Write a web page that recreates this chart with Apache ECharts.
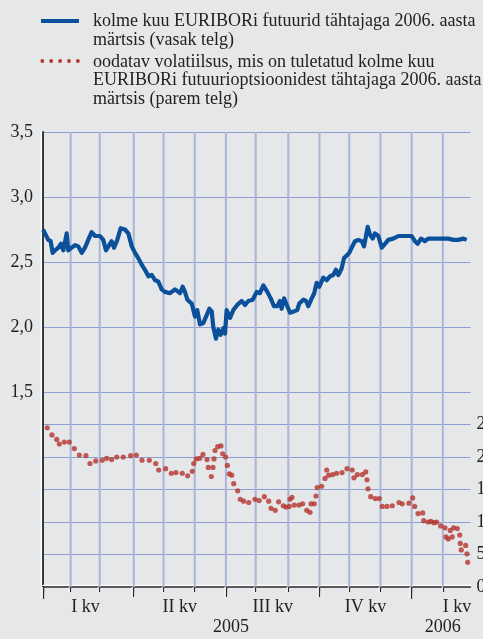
<!DOCTYPE html>
<html><head><meta charset="utf-8">
<script src="https://cdn.jsdelivr.net/npm/echarts@6/dist/echarts.min.js"></script>
<style>html,body{margin:0;padding:0;background:#e6e7e9}#c{width:483px;height:639px}</style>
</head><body><div id="c"></div><script>
// ---- data ----
// x = weekday index from 3 Jan 2005
const futDays = [0,1.4,3.7,5.4,6.8,8.5,10.8,12.7,14.3,16.7,17.8,20.2,22.6,24.9,27.3,29.6,31.9,34.3,36.7,40.2,42.5,44.4,46.1,48.4,50.1,52.4,54.8,57.8,60.2,62.6,64.9,67.2,69.6,71.9,74.3,76.7,79.0,81.3,83.7,86.0,89.6,93.1,96.6,98.5,100.1,101.8,104.9,107.2,108.8,110.7,113.0,115.4,117.3,119.0,120.1,122.0,123.6,125.3,127.2,128.4,129.5,131.9,134.2,137.0,140.1,142.5,144.8,147.9,150.7,153.0,155.4,158.2,160.6,162.9,165.2,167.1,168.3,170.0,172.3,174.2,177.0,179.3,180.7,183.6,185.5,187.1,189.5,191.3,193.0,194.9,197.7,200.1,202.4,204.7,206.6,208.3,210.6,212.3,214.2,216.0,217.7,220.0,222.4,224.8,226.4,227.8,229.0,230.6,232.5,234.1,236.5,238.9,241.2,243.5,247.0,250.6,254.1,257.6,260.0,262.3,264.2,266.6,269.4,271.7,275.2,278.8,282.3,285.8,289.4,292.9,296.4,298.8];
const futValues = [2.75,2.72,2.67,2.66,2.57,2.59,2.61,2.64,2.59,2.72,2.59,2.61,2.63,2.62,2.57,2.61,2.67,2.73,2.70,2.70,2.67,2.59,2.62,2.66,2.61,2.67,2.76,2.75,2.72,2.62,2.57,2.53,2.48,2.44,2.39,2.40,2.36,2.35,2.29,2.27,2.26,2.29,2.26,2.31,2.27,2.21,2.18,2.08,2.13,2.02,2.03,2.09,2.14,2.12,2.00,1.91,1.98,1.94,1.99,1.95,2.13,2.07,2.13,2.17,2.20,2.17,2.20,2.21,2.27,2.26,2.32,2.27,2.22,2.16,2.16,2.20,2.14,2.22,2.16,2.11,2.12,2.13,2.18,2.21,2.20,2.16,2.22,2.26,2.34,2.31,2.38,2.36,2.39,2.40,2.44,2.40,2.45,2.53,2.55,2.57,2.61,2.66,2.67,2.66,2.62,2.70,2.77,2.71,2.68,2.72,2.70,2.61,2.64,2.67,2.68,2.70,2.70,2.70,2.70,2.66,2.64,2.68,2.66,2.68,2.68,2.68,2.68,2.68,2.67,2.67,2.68,2.67];
const volDays = [3.0,6.3,9.7,11.5,15.0,18.5,22.1,25.6,30.3,33.1,37.2,41.8,44.9,48.4,52.0,56.6,61.8,65.8,69.8,75.0,79.5,81.6,86.5,90.5,93.8,98.2,102.0,105.3,106.3,108.1,110.5,112.8,115.7,116.6,118.7,119.9,120.6,121.3,123.2,125.5,126.7,128.8,130.0,131.4,133.1,134.5,137.3,139.1,141.5,145.1,149.5,152.5,156.1,159.2,160.8,163.8,166.2,169.5,171.4,173.7,174.2,175.6,177.2,180.5,183.1,186.0,188.3,189.0,191.3,192.5,193.4,196.5,198.9,200.1,201.5,204.3,207.1,210.9,214.4,218.1,219.3,221.7,225.2,227.6,228.5,229.2,231.1,234.3,237.2,239.3,242.6,246.3,251.1,253.4,258.1,260.7,262.1,264.5,267.8,268.5,271.7,273.6,275.7,277.6,280.5,283.5,284.2,285.8,287.2,288.6,289.6,292.2,293.9,294.3,295.0,298.1,299.0,299.5];
const volValues = [24.5,23.4,22.7,22.0,22.3,22.3,21.3,20.3,20.2,19.0,19.4,19.5,19.8,19.6,20.0,20.0,20.2,20.3,19.5,19.5,19.0,18.0,18.2,17.5,17.6,17.5,17.1,17.8,19.0,19.7,19.8,20.4,19.6,18.4,17.0,18.4,19.7,21.0,21.6,21.7,20.5,20.0,18.7,17.4,17.2,15.9,14.8,13.5,13.2,13.0,13.5,13.3,13.9,13.2,12.1,11.8,13.1,12.5,12.3,12.4,13.5,13.8,12.6,12.6,12.8,11.8,11.5,12.8,12.8,14.0,15.3,15.5,16.7,18.0,17.2,17.3,17.5,17.6,18.2,18.0,16.8,17.3,17.3,17.7,16.5,15.1,13.9,13.6,13.6,12.4,12.4,12.5,13.0,12.8,12.9,13.7,12.4,11.3,11.4,10.2,10.0,10.1,9.9,10.0,9.4,9.1,7.7,7.4,8.7,7.7,9.1,9.0,8.0,6.7,5.7,6.4,5.1,3.8];
const monthTicks = [0,19.5,40,64,85,107,129,150,173,195,216,238,260,282];
const quarterTicks = [0,64,129,195,260];
const yearTicks = [0,260];
const quarterLabelPos = [30,96.5,162,227.5,292];
const quarterLabels = ['I kv','II kv','III kv','IV kv','I kv'];
const yearLabelPos = [132.6,282];
const yearLabels = ['2005','2006'];
const leftLabelValues = [1.5,2.0,2.5,3.0,3.5];
const rightLabelValues = [0,5,10,15,20,25];
const legendLines1 = ['kolme kuu EURIBORi futuurid tähtajaga 2006. aasta','märtsis (vasak telg)'];
const legendLines2 = ['oodatav volatiilsus, mis on tuletatud kolme kuu','EURIBORi futuurioptsioonidest tähtajaga 2006. aasta','märtsis (parem telg)'];

// ---- chart ----
const FONT = '"Liberation Serif", "Times New Roman", serif';
const BLUE = '#0a509b', RED = '#b5342c', TXT = '#222';
const H_GRID = '#8d9dd3', V_GRID = '#a9b5d8';
const XMAX = 301.5;

const leftSplitColors = [];
for (let i = 0; i <= 14; i++) {
  const v = i * 0.25;
  const show = v > 0 && (v <= 1.5 || Math.abs(v * 2 - Math.round(v * 2)) < 1e-9);
  leftSplitColors.push(show ? H_GRID : 'rgba(0,0,0,0)');
}

const darkLine = { color: '#2a2a2a', width: 1.5, shadowColor: '#ffffff', shadowBlur: 0 };
const tickStyle = { color: '#2a2a2a', width: 1.2, shadowColor: '#ffffff', shadowBlur: 0, shadowOffsetX: -1.2 };

const graphic = [];
graphic.push({ type: 'line', shape: { x1: 41, y1: 21, x2: 79, y2: 21 }, style: { stroke: BLUE, lineWidth: 4 } });
[42.3, 51.2, 60.1, 69, 77.9].forEach(cx => graphic.push({ type: 'circle', shape: { cx: cx, cy: 61, r: 1.9 }, style: { fill: RED } }));
const legendY1 = [21, 40], legendY2 = [62, 80.5, 99];
legendLines1.forEach((t, i) => graphic.push({ type: 'text', x: 93, y: legendY1[i], style: { text: t, font: '18px ' + FONT, fill: TXT, verticalAlign: 'middle' } }));
legendLines2.forEach((t, i) => graphic.push({ type: 'text', x: 93, y: legendY2[i], style: { text: t, font: '18px ' + FONT, fill: TXT, verticalAlign: 'middle' } }));

const xBase = { type: 'value', min: 0, max: XMAX, position: 'bottom', splitLine: { show: false } };

const option = {
  backgroundColor: '#e6e7e9',
  animation: false,
  graphic: graphic,
  grid: { left: 43, right: 12.5, top: 132, bottom: 52, containLabel: false, outerBoundsMode: 'none' },
  xAxis: [
    Object.assign({}, xBase, {
      axisLine: { show: true, onZero: false, lineStyle: Object.assign({}, darkLine, { shadowOffsetY: -1.5 }) },
      axisTick: { show: true, length: 5, customValues: monthTicks, lineStyle: tickStyle },
      axisLabel: { show: true, customValues: quarterLabelPos, margin: 11, fontFamily: FONT, fontSize: 18, color: TXT,
        formatter: v => { const i = quarterLabelPos.indexOf(v); return i >= 0 ? quarterLabels[i] : ''; } }
    }),
    Object.assign({}, xBase, {
      axisLine: { show: false, onZero: false },
      axisTick: { show: true, length: 10, customValues: quarterTicks, lineStyle: tickStyle },
      axisLabel: { show: true, customValues: yearLabelPos, margin: 31, fontFamily: FONT, fontSize: 18, color: TXT,
        formatter: v => { const i = yearLabelPos.indexOf(v); return i >= 0 ? yearLabels[i] : ''; } }
    }),
    Object.assign({}, xBase, {
      axisLine: { show: false, onZero: false },
      axisTick: { show: true, length: 12, customValues: yearTicks, lineStyle: tickStyle },
      axisLabel: { show: false }
    })
  ],
  yAxis: [
    { type: 'value', min: 0, max: 3.5, interval: 0.25, position: 'left',
      axisLine: { show: true, lineStyle: Object.assign({}, darkLine, { shadowOffsetX: -1.5 }) },
      axisTick: { show: false },
      splitLine: { show: true, lineStyle: { color: leftSplitColors, width: 1.2 } },
      axisLabel: { margin: 10, fontFamily: FONT, fontSize: 18, color: TXT,
        formatter: v => leftLabelValues.some(x => Math.abs(x - v) < 1e-9) ? v.toFixed(1).replace('.', ',') : '' } },
    { type: 'value', min: 0, max: 70, interval: 5, position: 'right',
      axisLine: { show: true, lineStyle: Object.assign({}, darkLine, { shadowOffsetX: -1.5 }) },
      axisTick: { show: false },
      splitLine: { show: false },
      axisLabel: { margin: 6, fontFamily: FONT, fontSize: 18, color: TXT,
        formatter: v => rightLabelValues.indexOf(v) >= 0 ? String(v) : '' } }
  ],
  series: [
    { type: 'custom', name: 'kuud', xAxisIndex: 0, yAxisIndex: 0, silent: true, z: 1, clip: false,
      data: monthTicks.slice(1).map(v => [v]),
      renderItem: function (params, api) {
        const top = api.coord([api.value(0), 3.5]);
        const bot = api.coord([api.value(0), 0]);
        return { type: 'line', shape: { x1: top[0], y1: top[1], x2: bot[0], y2: bot[1] },
          style: { stroke: V_GRID, lineWidth: 2 } };
      } },
    { type: 'line', name: 'futuurid', xAxisIndex: 0, yAxisIndex: 0, showSymbol: false, symbol: 'none',
      data: futDays.map((d, i) => [d, futValues[i]]),
      lineStyle: { color: BLUE, width: 4.2, join: 'round' }, z: 3 },
    { type: 'scatter', name: 'volatiilsus', xAxisIndex: 0, yAxisIndex: 1, symbolSize: 5.2,
      data: volDays.map((d, i) => [d, volValues[i]]),
      itemStyle: { color: RED }, z: 4 }
  ]
};
const chart = echarts.init(document.getElementById('c'));
chart.setOption(option);
</script></body></html>
